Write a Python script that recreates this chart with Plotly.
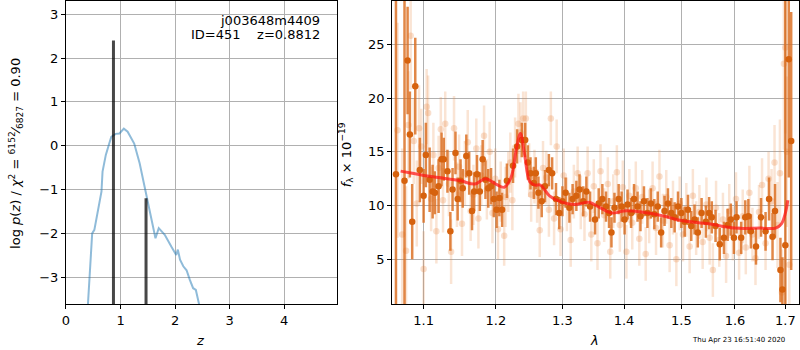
import math
import plotly.graph_objects as go

# ---------------- data ----------------
# p(z) curve
pz_z = [0.36, 0.40, 0.44, 0.48, 0.52, 0.60, 0.65, 0.67, 0.73, 0.79, 0.83, 0.91, 0.98, 1.06, 1.13,
        1.25, 1.35, 1.44, 1.50, 1.56, 1.64, 1.70, 1.81, 1.93, 2.02, 2.05, 2.09, 2.15, 2.21, 2.27,
        2.33, 2.38, 2.44, 2.48]
pz_logp = [-4.5, -3.62, -2.97, -2.0, -1.92, -1.39, -1.05, -0.59, -0.21, 0.04, 0.20, 0.27, 0.28, 0.39, 0.32,
           0.05, -0.40, -0.93, -1.31, -1.62, -2.11, -1.88, -2.03, -2.30, -2.49, -2.37, -2.60, -2.75, -2.84, -3.06,
           -3.25, -3.29, -3.62, -4.5]
# redshift peaks
peak_z = [0.87, 1.467]
peak_h = [2.4, -1.2]

# spectrum, dark points
dk_lam = [1.064, 1.075, 1.079, 1.082, 1.085, 1.089, 1.095, 1.100, 1.103, 1.108, 1.112, 1.115, 1.120, 1.124,
          1.127, 1.132, 1.136, 1.139, 1.143, 1.146, 1.150, 1.153, 1.158, 1.162, 1.166, 1.169, 1.173, 1.177,
          1.181, 1.185, 1.189, 1.193, 1.197, 1.201, 1.205, 1.209, 1.216, 1.225, 1.231, 1.238, 1.243, 1.247,
          1.251, 1.256, 1.259, 1.263, 1.268, 1.273, 1.279, 1.284, 1.290, 1.295, 1.300, 1.305, 1.311, 1.316,
          1.322, 1.327, 1.333, 1.338, 1.344, 1.352, 1.358, 1.364, 1.370, 1.375, 1.379, 1.384, 1.391, 1.396,
          1.401, 1.406, 1.412, 1.417, 1.423, 1.428, 1.434, 1.440, 1.446, 1.452, 1.458, 1.464, 1.470, 1.476,
          1.482, 1.488, 1.494, 1.500, 1.506, 1.512, 1.518, 1.524, 1.530, 1.537, 1.545, 1.551, 1.556, 1.563,
          1.571, 1.579, 1.586, 1.592, 1.598, 1.603, 1.612, 1.620, 1.626, 1.631, 1.641, 1.651, 1.660, 1.667,
          1.674, 1.679, 1.690, 1.694, 1.700, 1.707, 1.712]
dk_f = [12.9, 12.3, 23.5, 16.6, 8.5, 21.1, 13.3, 10.9, 14.7, 12.4, 11.3, 11.2, 11.8, 14.3,
        14.3, 13.2, 7.6, 11.5, 14.9, 10.6, 12.3, 11.6, 14.6, 13.0, 9.5, 11.3, 12.9, 11.3,
        14.3, 12.4, 11.6, 11.8, 10.6, 9.6, 10.7, 9.6, 12.3, 13.7, 15.5, 16.1, 16.1, 14.0,
        13.0, 12.1, 13.0, 11.2, 10.4, 11.8, 13.3, 13.0, 10.6, 9.3, 10.4, 11.2, 9.8, 10.6,
        10.9, 11.5, 10.4, 11.3, 9.9, 8.7, 10.2, 10.6, 9.9, 9.3, 7.5, 9.8, 10.6, 9.9,
        8.7, 10.1, 9.3, 10.6, 9.9, 9.0, 10.4, 9.3, 10.2, 9.2, 9.9, 7.5, 9.5, 10.2,
        9.3, 8.9, 9.9, 9.3, 8.5, 9.6, 8.1, 8.7, 7.5, 9.3, 8.5, 9.3, 8.9, 8.1,
        6.4, 7.0, 8.2, 8.7, 7.0, 8.9, 7.0, 8.9, 9.0, 7.6, 6.2, 8.9, 7.6, 10.6,
        7.1, 9.5, 4.0, 2.2, 6.3, 23.6, 16.0]
dk_err = [20, 20, 5, 4, 3.5, 4.5, 3, 2.5, 3, 3, 2.5, 2, 2.5, 2.5,
          2, 2, 1.8, 2, 2, 2, 2, 1.8, 2, 2, 1.8, 1.8, 1.8, 1.8,
          1.8, 1.8, 1.8, 1.7, 1.7, 1.7, 1.7, 1.6, 1.6, 1.6, 1.6, 1.6, 1.6, 1.6,
          1.5, 1.5, 1.5, 1.5, 1.5, 1.5, 1.5, 1.5, 1.5, 1.5, 1.4, 1.4, 1.4, 1.4,
          1.4, 1.4, 1.4, 1.4, 1.4, 1.4, 1.4, 1.4, 1.4, 1.4, 1.4, 1.4, 1.4, 1.4,
          1.4, 1.4, 1.4, 1.4, 1.4, 1.4, 1.4, 1.4, 1.4, 1.4, 1.4, 1.4, 1.4, 1.4,
          1.4, 1.4, 1.4, 1.4, 1.4, 1.4, 1.4, 1.4, 1.4, 1.4, 1.5, 1.5, 1.5, 1.5,
          1.5, 1.5, 1.5, 1.5, 1.5, 1.5, 1.5, 1.6, 1.6, 1.6, 1.7, 1.8, 1.8, 2.0,
          2.2, 2.5, 3.0, 3.0, 25, 11, 12]

# spectrum, light points
lt_lam = [1.066, 1.072, 1.077, 1.080, 1.083, 1.087, 1.091, 1.094, 1.097, 1.100, 1.104, 1.106, 1.110, 1.113,
          1.117, 1.120, 1.123, 1.126, 1.129, 1.134, 1.137, 1.141, 1.145, 1.148, 1.152, 1.156, 1.160, 1.164,
          1.168, 1.172, 1.175, 1.179, 1.183, 1.187, 1.191, 1.195, 1.199, 1.203, 1.207, 1.212, 1.214, 1.218,
          1.221, 1.224, 1.228, 1.233, 1.236, 1.240, 1.244, 1.249, 1.252, 1.257, 1.261, 1.265, 1.270, 1.275,
          1.279, 1.282, 1.287, 1.291, 1.297, 1.302, 1.307, 1.313, 1.318, 1.324, 1.329, 1.335, 1.340, 1.346,
          1.350, 1.356, 1.361, 1.367, 1.373, 1.377, 1.382, 1.388, 1.393, 1.398, 1.404, 1.409, 1.414, 1.420,
          1.426, 1.431, 1.437, 1.443, 1.449, 1.455, 1.461, 1.467, 1.473, 1.479, 1.485, 1.491, 1.497, 1.503,
          1.509, 1.515, 1.521, 1.527, 1.533, 1.539, 1.546, 1.552, 1.558, 1.564, 1.570, 1.577, 1.583, 1.589,
          1.596, 1.602, 1.608, 1.615, 1.621, 1.628, 1.634, 1.640, 1.647, 1.653, 1.660, 1.666, 1.672, 1.678,
          1.684, 1.689, 1.693, 1.697, 1.700, 1.703, 1.708]
lt_f = [17.0, 7.3, 5.8, 17.5, 25.8, 16.0, 10.2, 17.2, 15.5, 4.1, 19.2, 18.6, 10.6, 14.7,
        7.6, 13.5, 17.1, 10.5, 17.6, 12.0, 5.7, 17.2, 11.0, 13.6, 8.3, 13.0, 15.9, 9.5,
        11.0, 15.3, 8.8, 12.8, 16.5, 11.5, 15.0, 9.3, 12.5, 7.8, 11.3, 7.2, 10.8, 12.2,
        14.0, 10.5, 15.4, 17.6, 16.8, 18.1, 18.1, 13.3, 11.0, 12.7, 10.9, 7.7, 13.5, 12.6,
        9.6, 18.1, 8.8, 15.5, 7.8, 12.8, 10.1, 6.8, 11.3, 13.0, 10.3, 9.2, 13.0, 7.3,
        11.8, 6.5, 13.2, 9.1, 12.0, 5.7, 10.4, 13.1, 8.2, 11.7, 5.7, 10.9, 8.4, 11.6,
        6.9, 10.8, 5.5, 9.0, 11.6, 7.9, 12.7, 8.6, 10.8, 6.3, 9.8, 5.0, 10.2, 7.3,
        9.6, 6.2, 10.9, 7.9, 9.4, 6.6, 10.1, 7.0, 4.0, 9.8, 6.8, 8.7, 5.3, 9.5,
        7.4, 10.6, 5.6, 9.0, 6.1, 11.2, 7.3, 5.1, 9.4, 11.9, 6.5, 12.5, 10.4, 14.0,
        8.2, 13.0, 1.9, 23.2, 24.7, 15.0, 4.5]
lt_err = [10, 8, 6, 5, 5, 4, 4, 4, 3.5, 3.5, 3.5, 3.5, 3, 3,
          3, 3, 3, 3, 3, 3, 3, 3, 3, 3, 3, 3, 3, 2.8,
          2.8, 2.8, 2.8, 2.8, 2.8, 2.8, 2.8, 2.8, 2.8, 2.8, 2.8, 2.8, 2.8, 2.8,
          2.8, 2.8, 2.8, 2.8, 2.8, 2.5, 2.5, 2.5, 2.5, 2.5, 2.5, 2.5, 2.5, 2.5,
          2.5, 2.5, 2.5, 2.5, 2.5, 2.5, 2.5, 2.5, 2.5, 2.5, 2.5, 2.5, 2.5, 2.5,
          2.5, 2.5, 2.5, 2.5, 2.5, 2.5, 2.5, 2.5, 2.5, 2.5, 2.5, 2.5, 2.5, 2.5,
          2.5, 2.5, 2.5, 2.5, 2.5, 2.5, 2.5, 2.5, 2.5, 2.5, 2.5, 2.5, 2.5, 2.5,
          2.5, 2.5, 2.5, 2.5, 2.5, 2.5, 2.5, 2.5, 2.5, 2.5, 2.5, 2.5, 2.5, 2.5,
          2.5, 2.5, 2.5, 2.5, 2.5, 2.5, 2.5, 2.5, 2.5, 2.5, 2.5, 2.5, 3, 3.5,
          4, 5, 4, 8, 8, 7, 6]

# model
md_lam = [1.070, 1.085, 1.100, 1.120, 1.150, 1.170, 1.185, 1.200, 1.212, 1.222, 1.230, 1.236, 1.242,
          1.250, 1.258, 1.266, 1.280, 1.300, 1.320, 1.342, 1.360, 1.380, 1.400, 1.430, 1.470, 1.500,
          1.550, 1.600, 1.650, 1.680, 1.692, 1.700, 1.705]
md_f = [13.2, 13.0, 12.8, 12.6, 12.3, 12.0, 12.5, 12.0, 11.7, 12.6, 15.3, 16.7, 14.8,
        12.2, 11.9, 11.9, 10.9, 10.3, 10.1, 10.3, 9.8, 9.3, 9.5, 9.4, 9.0, 8.6,
        8.3, 7.9, 7.9, 7.9, 8.3, 9.3, 10.5]

x_ticks_left = [0, 1, 2, 3, 4]
y_ticks_left = [-3, -2, -1, 0, 1, 2, 3]
x_ticks_right = [1.1, 1.2, 1.3, 1.4, 1.5, 1.6, 1.7]
y_ticks_right = [5, 10, 15, 20, 25]

# ---------------- figure ----------------
FONT = "DejaVu Sans"
W, H = 800, 350

def xd(px):
    return px / W

def yd(py):
    return 1 - py / H

fig = go.Figure()

# p(z) curve
fig.add_trace(go.Scatter(x=pz_z, y=pz_logp, mode="lines", xaxis="x", yaxis="y",
                         line=dict(color="rgba(31,119,180,0.5)", width=2), showlegend=False))
# peaks
pk_x, pk_y = [], []
for zz, hh in zip(peak_z, peak_h):
    pk_x += [zz, zz, None]
    pk_y += [-10, hh, None]
fig.add_trace(go.Scatter(x=pk_x, y=pk_y, mode="lines", xaxis="x", yaxis="y",
                         line=dict(color="rgba(0,0,0,0.72)", width=3), showlegend=False))

# light spectrum points
fig.add_trace(go.Scatter(x=lt_lam, y=lt_f, mode="markers", xaxis="x2", yaxis="y2",
                         marker=dict(color="rgba(230,130,60,0.26)", size=6.5),
                         error_y=dict(type="data", array=lt_err, color="rgba(230,130,60,0.22)",
                                      thickness=2.5, width=0),
                         showlegend=False))
# dark spectrum points
fig.add_trace(go.Scatter(x=dk_lam, y=dk_f, mode="markers", xaxis="x2", yaxis="y2",
                         marker=dict(color="rgb(214,98,14)", size=6.5),
                         error_y=dict(type="data", array=dk_err, color="rgba(218,108,30,0.82)",
                                      thickness=2.5, width=0),
                         showlegend=False))
# model
fig.add_trace(go.Scatter(x=md_lam, y=md_f, mode="lines", xaxis="x2", yaxis="y2",
                         line=dict(color="rgba(255,20,20,0.72)", width=3, shape="spline"),
                         showlegend=False))

axis_common = dict(showline=True, linecolor="black", linewidth=1, mirror=True,
                   showgrid=True, gridcolor="#b0b0b0", gridwidth=1, zeroline=False,
                   ticks="outside", ticklen=4, tickcolor="black",
                   tickfont=dict(family=FONT, size=13, color="black"))

fig.update_layout(
    width=W, height=H, margin=dict(l=0, r=0, t=0, b=0),
    paper_bgcolor="white", plot_bgcolor="white",
    xaxis=dict(domain=[xd(62.3), xd(334.3)], range=[0, 4.96], anchor="y",
               tickvals=x_ticks_left, ticktext=[str(v) for v in x_ticks_left], **axis_common),
    yaxis=dict(domain=[yd(304), yd(1)], range=[-3.61, 3.30], anchor="x",
               tickvals=y_ticks_left, ticktext=[str(v).replace("-", "\u2212") for v in y_ticks_left],
               **axis_common),
    xaxis2=dict(domain=[xd(390), xd(799.3)], type="log",
                range=[math.log10(1.059), math.log10(1.7288)], anchor="y2",
                tickvals=x_ticks_right, ticktext=[f"{v:.1f}" for v in x_ticks_right], **axis_common),
    yaxis2=dict(domain=[yd(304), yd(1)], range=[0.84, 29.03], anchor="x2",
                tickvals=y_ticks_right, ticktext=[str(v) for v in y_ticks_right], **axis_common),
)

ann_font = dict(family=FONT, size=13, color="black")
annotations = [
    dict(text="j003648m4409", x=xd(320), y=yd(20), xref="paper", yref="paper",
         xanchor="right", yanchor="middle", showarrow=False, font=ann_font),
    dict(text="ID=451\u00a0\u00a0\u00a0\u00a0z=0.8812", x=xd(320), y=yd(35), xref="paper", yref="paper",
         xanchor="right", yanchor="middle", showarrow=False, font=ann_font),
    dict(text="<i>z</i>", x=xd(197), y=yd(340), xref="paper", yref="paper",
         xanchor="center", yanchor="middle", showarrow=False, font=ann_font),
    dict(text="<i>λ</i>", x=xd(593), y=yd(340), xref="paper", yref="paper",
         xanchor="center", yanchor="middle", showarrow=False, font=ann_font),
    dict(text="log <i>p</i>(<i>z</i>) / <i>χ</i><sup>2</sup> = <sup>6152</sup>⁄<sub>6827</sub> = 0.90",
         x=xd(12), y=yd(153), xref="paper", yref="paper", textangle=-90,
         xanchor="center", yanchor="middle", showarrow=False, font=ann_font),
    dict(text="<i>f</i><sub>λ</sub> × 10<sup>−19</sup>",
         x=xd(344), y=yd(155), xref="paper", yref="paper", textangle=-90,
         xanchor="center", yanchor="middle", showarrow=False, font=ann_font),
    dict(text="Thu Apr 23 16:51:40 2020", x=xd(738), y=yd(340), xref="paper", yref="paper",
         xanchor="center", yanchor="middle", showarrow=False,
         font=dict(family=FONT, size=7, color="black")),
]
fig.update_layout(annotations=annotations)

fig.write_html("out.html", config={"displayModeBar": False},
               post_script="document.body.style.margin='0';document.body.style.overflow='hidden';")
